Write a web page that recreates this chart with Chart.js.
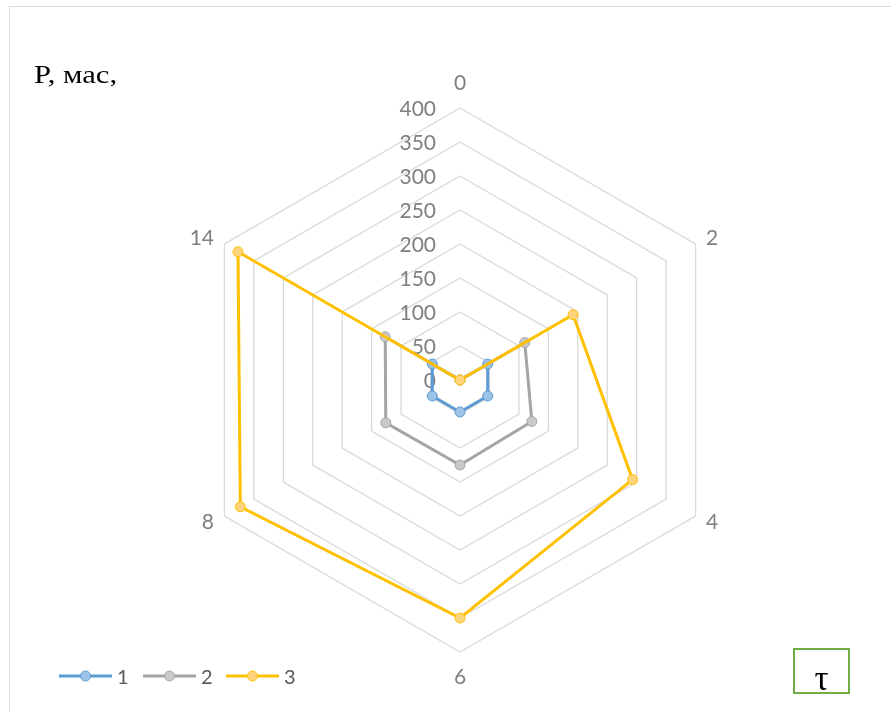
<!DOCTYPE html>
<html>
<head>
<meta charset="utf-8">
<script src="https://cdn.jsdelivr.net/npm/chart.js@4/dist/chart.umd.min.js"></script>
<style>
  html, body { margin: 0; padding: 0; background: #fff; }
  #wrap { position: relative; width: 891px; height: 712px; overflow: hidden; background: #fff; }
  #frame { position: absolute; left: 9px; top: 6px; width: 900px; height: 800px; border: 1px solid #d9d9d9; box-sizing: border-box; }
  canvas { position: absolute; left: 0; top: 0; }
  #title { position: absolute; left: 34px; top: 61.5px; font: 26px/26px "Liberation Serif", "Times New Roman", serif; color: #000; transform: scaleX(1.18); transform-origin: 0 0; white-space: nowrap; }
  #taubox { position: absolute; left: 793px; top: 648px; width: 57px; height: 46px; border: 2.5px solid #70ad47; box-sizing: border-box; }
  #tau { position: absolute; left: 793px; width: 57px; top: 662px; text-align: center; font: 35px/34px "Liberation Serif", "Times New Roman", serif; color: #000; }
  .leg { position: absolute; top: 666px; height: 20px; font: 20px/20px Lato, sans-serif; color: #595959; white-space: nowrap; }
  .leg svg { position: absolute; left: 0; top: 0; }
  .leg span { position: absolute; top: 0; }
</style>
</head>
<body>
<div id="wrap">
  <div id="frame"></div>
  <canvas id="c" width="891" height="712"></canvas>
  <div id="title">P, мас,</div>
  <div id="taubox"></div>
  <div id="tau">τ</div>
  <div id="legend"></div>
</div>
<script>
// ---- data ----
const categories = ['0', '2', '4', '6', '8', '14'];
const seriesNames = ['1', '2', '3'];
const series1 = [0, 47, 47, 47, 47, 47];
const series2 = [0, 110, 122, 125, 126, 127];
const series3 = [0, 192, 293, 350, 373, 377];
const tickMin = 0, tickMax = 400, tickStep = 50;

const lineColors = ['#5b9bd5', '#a5a5a5', '#ffc000'];
const pointFills = ['#9dc3e6', '#c9c9c9', '#ffd47f'];
const allSeries = [series1, series2, series3];

const labelPlugin = {
  id: 'customLabels',
  beforeDatasetsDraw(chart) {
    const s = chart.scales.r;
    const ctx = chart.ctx;
    ctx.save();
    ctx.fillStyle = '#7f7f7f';
    ctx.font = '21px Lato, sans-serif';
    ctx.textAlign = 'right';
    ctx.textBaseline = 'middle';
    s.ticks.forEach(t => {
      const d = s.getDistanceFromCenterForValue(t.value);
      ctx.fillText(t.label, s.xCenter - 24, s.yCenter - d + 1);
    });
    ctx.font = '21px Lato, sans-serif';
    chart.data.labels.forEach((lab, i) => {
      const probe = s.getPointPosition(i, s.drawingArea);
      const dx = probe.x - s.xCenter;
      let pad, align;
      if (Math.abs(dx) < 1) { pad = 25; align = 'center'; }
      else { pad = 12; align = dx > 0 ? 'left' : 'right'; }
      const p = s.getPointPosition(i, s.drawingArea + pad);
      ctx.textAlign = align;
      ctx.textBaseline = 'middle';
      ctx.fillText(lab, p.x, p.y);
    });
    ctx.restore();
  }
};

const datasets = allSeries.map((vals, i) => ({
  label: seriesNames[i],
  data: vals,
  borderColor: lineColors[i],
  backgroundColor: 'rgba(0,0,0,0)',
  fill: false,
  borderWidth: 3,
  pointRadius: 5,
  pointBorderWidth: 1,
  pointBackgroundColor: pointFills[i],
  pointBorderColor: lineColors[i],
  order: allSeries.length - i,
  tension: 0
}));

new Chart(document.getElementById('c'), {
  type: 'radar',
  data: { labels: categories, datasets },
  plugins: [labelPlugin],
  options: {
    responsive: false,
    animation: false,
    devicePixelRatio: 1,
    layout: { padding: { left: 188, top: 108, right: 159, bottom: 60 } },
    plugins: { legend: { display: false }, tooltip: { enabled: false } },
    scales: {
      r: {
        min: tickMin, max: tickMax,
        ticks: { stepSize: tickStep, display: false },
        pointLabels: { display: false },
        angleLines: { display: false },
        grid: { color: '#d9d9d9', lineWidth: 1.3 }
      }
    }
  }
});

// legend (HTML)
const legendX = [58, 142, 225];
const legend = document.getElementById('legend');
seriesNames.forEach((name, i) => {
  const d = document.createElement('div');
  d.className = 'leg';
  d.style.left = legendX[i] + 'px';
  d.style.width = '80px';
  d.innerHTML = '<svg width="56" height="20"><line x1="1" y1="10" x2="54" y2="10" stroke="' + lineColors[i] +
    '" stroke-width="3"/><circle cx="27.5" cy="10" r="5" fill="' + pointFills[i] + '" stroke="' + lineColors[i] +
    '" stroke-width="1"/></svg><span style="left:59px">' + name + '</span>';
  legend.appendChild(d);
});
</script>
</body>
</html>
